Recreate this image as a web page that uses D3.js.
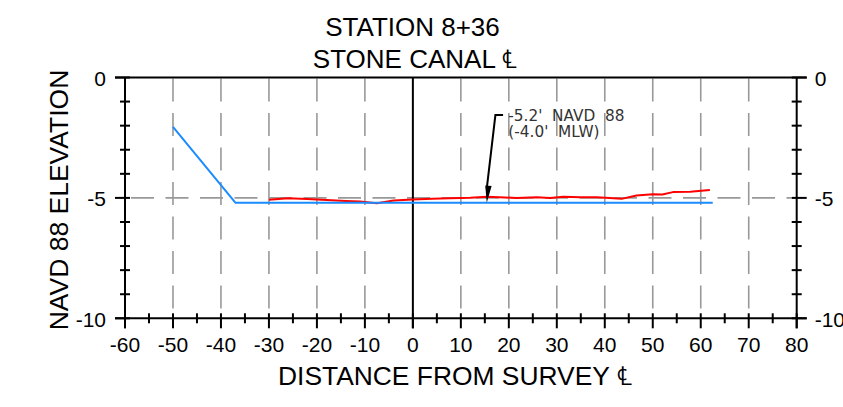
<!DOCTYPE html>
<html><head><meta charset="utf-8">
<script src="https://cdn.jsdelivr.net/npm/d3@7"></script>
<style>
html,body{margin:0;padding:0;background:#fff;}
svg{display:block;}
text{font-family:"Liberation Sans",Arial,sans-serif;fill:#000;}
</style></head>
<body>
<svg id="chart" width="843" height="407"></svg>
<script>
// ---- data ----
const titleLines = ["STATION 8+36", "STONE CANAL \u2104"];
const xLabel = "DISTANCE FROM SURVEY \u2104";
const yLabel = "NAVD 88 ELEVATION";
const xTicks = [-60,-50,-40,-30,-20,-10,0,10,20,30,40,50,60,70,80];
const yTicks = [0,-5,-10];
const designX = [-50, -37, 62.5];
const designY = [-2.05, -5.2, -5.2];
const groundX = [-30,-26,-22,-18,-14,-11,-7.5,-4,0,4,7.7,12,15.4,18,21.6,25.8,28.6,31.3,35,38.3,41,43.5,46.6,50,52,54.2,57.8,61.9];
const groundY = [-5.08,-5.01,-5.05,-5.09,-5.13,-5.15,-5.22,-5.11,-5.07,-5.04,-5.01,-4.99,-4.95,-4.97,-5.0,-4.97,-5.0,-4.95,-4.97,-4.97,-5.0,-5.04,-4.9,-4.85,-4.86,-4.76,-4.74,-4.67];
const noteLines = ["-5.2'  NAVD  88", "(-4.0'  MLW)"];
const noteTip = [15.4, -5.2];
const noteStart = [17.2, -1.56];
const noteBracketEnd = 18.8;
const noteTextX = 19.9;

// ---- chart ----
const svg = d3.select("#chart");
const x = d3.scaleLinear().domain([-60, 80]).range([125, 796.7]);
const y = d3.scaleLinear().domain([-10, 0]).range([318.3, 77.5]);
const [x0, x1] = x.range();
const [yb, yt] = y.range();

const grid = svg.append("g").attr("stroke", "#999").attr("stroke-width", 1.6).attr("stroke-dasharray", "23,11.5");
xTicks.filter(d => d > -60 && d < 80 && d !== 0).forEach(d => {
  grid.append("line").attr("x1", x(d)).attr("x2", x(d)).attr("y1", yt + 1).attr("y2", yb);
});
grid.append("line").attr("x1", x0 + 6).attr("x2", x1 - 5).attr("y1", y(-5)).attr("y2", y(-5));

// axes frame
const ax = svg.append("g").attr("stroke", "#000").attr("stroke-width", 2).attr("fill", "none");
ax.append("line").attr("x1", x0 - 10).attr("x2", x1 + 10).attr("y1", yt).attr("y2", yt);
ax.append("line").attr("x1", x0 - 10).attr("x2", x1 + 10).attr("y1", yb).attr("y2", yb);
ax.append("line").attr("x1", x0).attr("x2", x0).attr("y1", yt).attr("y2", yb + 10);
ax.append("line").attr("x1", x1).attr("x2", x1).attr("y1", yt).attr("y2", yb + 10);
ax.append("line").attr("x1", x(0)).attr("x2", x(0)).attr("y1", yt).attr("y2", yb + 10);

// y minor ticks (both sides)
d3.range(-10, 1, 1).forEach(v => {
  const major = yTicks.includes(v);
  ax.append("line").attr("x1", major ? x0 - 10 : x0 - 5).attr("x2", x0 + 5).attr("y1", y(v)).attr("y2", y(v));
  ax.append("line").attr("x1", x1 - 5).attr("x2", major ? x1 + 10 : x1 + 5).attr("y1", y(v)).attr("y2", y(v));
});
// x ticks
d3.range(-60, 81, 5).forEach(v => {
  const major = xTicks.includes(v);
  ax.append("line").attr("x1", x(v)).attr("x2", x(v)).attr("y1", yb - 5).attr("y2", major ? yb + 10 : yb + 5);
});

// tick labels
svg.append("g").selectAll("text").data(xTicks).join("text")
  .attr("x", d => x(d)).attr("y", 352).attr("text-anchor", "middle")
  .attr("font-size", 21).text(d => d);
svg.append("g").selectAll("text").data(yTicks).join("text")
  .attr("x", x0 - 19).attr("y", d => y(d) + 8.5).attr("text-anchor", "end")
  .attr("font-size", 21).text(d => d);
svg.append("g").selectAll("text").data(yTicks).join("text")
  .attr("x", x1 + 18).attr("y", d => y(d) + 8.5).attr("text-anchor", "start")
  .attr("font-size", 21).text(d => d);

// lines
const line = d3.line().x(d => x(d[0])).y(d => y(d[1]));
svg.append("path").datum(groundX.map((v, i) => [v, groundY[i]]))
  .attr("d", line).attr("fill", "none").attr("stroke", "#ff0000").attr("stroke-width", 2).attr("stroke-linejoin", "round");
svg.append("path").datum(designX.map((v, i) => [v, designY[i]]))
  .attr("d", line).attr("fill", "none").attr("stroke", "#1a8cff").attr("stroke-width", 2).attr("stroke-linejoin", "round");

// annotation
const tx = x(noteTip[0]), ty = y(noteTip[1]);
const sx = x(noteStart[0]), sy = y(noteStart[1]);
svg.append("path").attr("d", `M${x(noteBracketEnd)},${sy}L${sx},${sy}L${tx},${ty - 14}`)
  .attr("fill", "none").attr("stroke", "#000").attr("stroke-width", 2);
const ang = Math.atan2(ty - sy, tx - sx);
const hl = 17, hw = 3.2;
const bx = tx - hl * Math.cos(ang), by = ty - hl * Math.sin(ang);
svg.append("path").attr("d", `M${tx},${ty}L${bx + hw * Math.sin(ang)},${by - hw * Math.cos(ang)}L${bx - hw * Math.sin(ang)},${by + hw * Math.cos(ang)}Z`)
  .attr("fill", "#000");
svg.append("g").selectAll("text").data(noteLines).join("text")
  .attr("x", x(noteTextX)).attr("y", (d, i) => 120.5 + i * 16.5)
  .attr("font-size", 15.3).style("font-family", "'DejaVu Sans', sans-serif").style("fill", "#333")
  .style("white-space", "pre").text(d => d);

// titles
svg.append("g").selectAll("text").data(titleLines).join("text")
  .attr("x", (d, i) => i === 0 ? 412.5 : 415).attr("y", (d, i) => 36 + i * 32)
  .attr("text-anchor", "middle").attr("font-size", 26).text(d => d);
svg.append("text").attr("x", 278).attr("y", 385).attr("font-size", 26.4).text(xLabel);
svg.append("text").attr("transform", "translate(68,200) rotate(-90)").attr("text-anchor", "middle")
  .attr("font-size", 26.5).text(yLabel);
</script>
</body></html>
